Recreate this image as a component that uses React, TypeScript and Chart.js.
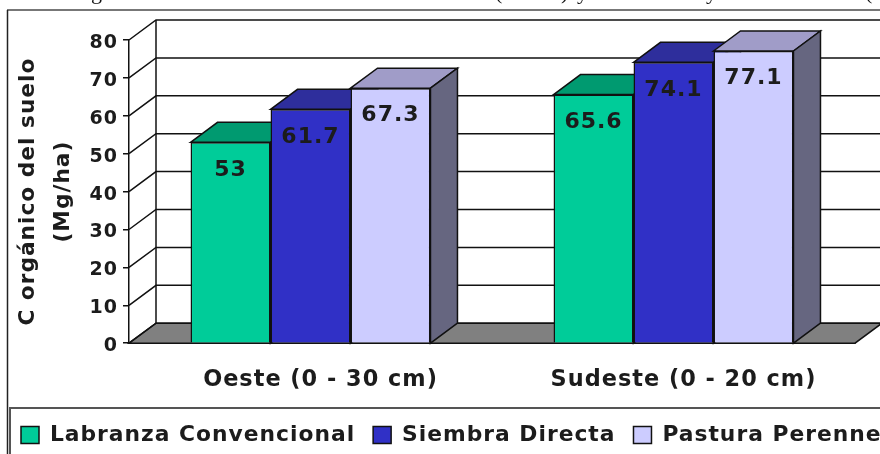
import React, { useEffect, useRef } from "react";
import { Chart, registerables } from "chart.js";

Chart.register(...registerables);

const categories = ["Oeste (0 - 30 cm)", "Sudeste (0 - 20 cm)"];
const labranza = [53, 65.6];
const siembra = [61.7, 74.1];
const pastura = [67.3, 77.1];
const seriesNames = ["Labranza Convencional", "Siembra Directa", "Pastura Perenne"];
const frontColors = ["#00CC99", "#3030C6", "#CCCCFF"];
const topColors = ["#009A70", "#2E2E9C", "#A09CC8"];
const sideColor = "#666680";
const floorColor = "#808080";
const depthX = 27;
const depthY = 20;
const font = "'DejaVu Sans'";
const textColor = "#1c1c1c";
const spacing = "1px";
const captionGlyphs: [string, number][] = [["g", 91], ["(", 495], [")", 561], ["y", 577], ["y", 706], ["(", 865]];

const depthPlugin = {
  id: "depth3d",
  beforeUpdate(chart: any) {
    chart.ctx.letterSpacing = spacing;
  },
  beforeLayout(chart: any) {
    chart.ctx.letterSpacing = spacing;
  },
  beforeDraw(chart: any) {
    chart.ctx.letterSpacing = spacing;
  },
  beforeDatasetsDraw(chart: any) {
    const { ctx, chartArea, scales } = chart;
    const { left, right, bottom, top } = chartArea;
    ctx.save();
    ctx.fillStyle = floorColor;
    ctx.strokeStyle = "#111";
    ctx.lineWidth = 1.5;
    ctx.beginPath();
    ctx.moveTo(left, bottom);
    ctx.lineTo(left + depthX, bottom - depthY);
    ctx.lineTo(right + depthX, bottom - depthY);
    ctx.lineTo(right, bottom);
    ctx.closePath();
    ctx.fill();
    ctx.stroke();
    scales.y.ticks.forEach((t: any) => {
      const y = scales.y.getPixelForValue(t.value);
      ctx.beginPath();
      ctx.moveTo(left, y);
      ctx.lineTo(left + depthX, y - depthY);
      ctx.lineTo(right + depthX, y - depthY);
      ctx.stroke();
    });
    ctx.beginPath();
    ctx.moveTo(left + depthX, top - depthY);
    ctx.lineTo(left + depthX, bottom - depthY);
    ctx.stroke();
    chart.data.datasets.forEach((_: any, di: number) => {
      chart.getDatasetMeta(di).data.forEach((bar: any) => {
        const half = bar.width / 2;
        const l = bar.x - half;
        const r = bar.x + half;
        ctx.fillStyle = topColors[di];
        ctx.beginPath();
        ctx.moveTo(l, bar.y);
        ctx.lineTo(l + depthX, bar.y - depthY);
        ctx.lineTo(r + depthX, bar.y - depthY);
        ctx.lineTo(r, bar.y);
        ctx.closePath();
        ctx.fill();
        ctx.stroke();
        ctx.fillStyle = sideColor;
        ctx.beginPath();
        ctx.moveTo(r, bar.y);
        ctx.lineTo(r + depthX, bar.y - depthY);
        ctx.lineTo(r + depthX, bottom - depthY);
        ctx.lineTo(r, bottom);
        ctx.closePath();
        ctx.fill();
        ctx.stroke();
      });
    });
    ctx.restore();
  },
  afterDatasetsDraw(chart: any) {
    const { ctx } = chart;
    ctx.save();
    ctx.fillStyle = textColor;
    ctx.font = `bold 22px ${font}`;
    ctx.textAlign = "center";
    ctx.textBaseline = "middle";
    chart.data.datasets.forEach((ds: any, di: number) => {
      chart.getDatasetMeta(di).data.forEach((bar: any, i: number) => {
        ctx.fillText(String(ds.data[i]), bar.x, bar.y + 27.5);
      });
    });
    ctx.restore();
  },
  afterDraw(chart: any) {
    const { ctx } = chart;
    ctx.save();
    ctx.strokeStyle = "#777";
    ctx.lineWidth = 2;
    ctx.beginPath();
    ctx.moveTo(7, 10);
    ctx.lineTo(1020, 10);
    ctx.stroke();
    ctx.strokeStyle = "#222";
    ctx.lineWidth = 1.5;
    ctx.beginPath();
    ctx.moveTo(7.5, 470);
    ctx.lineTo(7.5, 10);
    ctx.stroke();
    ctx.strokeStyle = "#555";
    ctx.lineWidth = 2;
    ctx.beginPath();
    ctx.moveTo(10, 470);
    ctx.lineTo(10, 408);
    ctx.lineTo(1020, 408);
    ctx.stroke();
    ctx.fillStyle = "#111";
    ctx.letterSpacing = "0px";
    ctx.font = "22px 'Liberation Serif'";
    ctx.textAlign = "left";
    ctx.textBaseline = "alphabetic";
    captionGlyphs.forEach(([glyph, x]) => ctx.fillText(glyph, x, -1));
    ctx.restore();
  },
};

export default function App() {
  const ref = useRef<HTMLCanvasElement>(null);
  useEffect(() => {
    document.body.style.margin = "0";
    const series = [labranza, siembra, pastura];
    const chart = new Chart(ref.current as HTMLCanvasElement, {
      type: "bar",
      data: {
        labels: categories,
        datasets: series.map((data, i) => ({
          label: seriesNames[i],
          data,
          backgroundColor: frontColors[i],
          borderColor: "#111",
          borderWidth: 1.5,
          categoryPercentage: 0.661,
          barPercentage: 1,
        })),
      },
      options: {
        responsive: false,
        animation: false,
        layout: { padding: { left: 3, right: 0, top: 40, bottom: 14 } },
        plugins: {
          tooltip: { enabled: false },
          title: { display: false },
          legend: {
            display: true,
            position: "bottom",
            align: "start",
            labels: {
              boxWidth: 18,
              boxHeight: 17,
              padding: 18,
              color: textColor,
              font: { family: font, size: 21.8, weight: "bold" },
            },
          },
        },
        scales: {
          x: {
            grid: { display: false },
            border: { color: "#111", width: 1.5 },
            ticks: {
              color: textColor,
              font: { family: font, size: 22.4, weight: "bold" },
              padding: 16,
              labelOffset: 10,
              maxRotation: 0,
            },
            afterFit(s: any) { s.height = 63; },
          },
          y: {
            min: 0,
            max: 80,
            grid: { drawOnChartArea: false, drawTicks: true, tickLength: 6, color: "#111", lineWidth: 1.5 },
            border: { color: "#111", width: 1.5 },
            ticks: {
              stepSize: 10,
              color: textColor,
              padding: 5,
              labelOffset: 3,
              font: { family: font, size: 19, weight: "bold" },
            },
            title: {
              display: true,
              text: ["C orgánico del suelo", "(Mg/ha)"],
              color: textColor,
              font: { family: font, size: 21.7, weight: "bold", lineHeight: 1.61 },
              padding: { top: 8, bottom: 0 },
            },
            afterFit(s: any) { s.width = 126; },
          },
          rightGap: {
            type: "linear",
            position: "right",
            min: 0,
            max: 80,
            grid: { display: false },
            border: { display: false },
            ticks: { display: false },
            afterFit(s: any) { s.width = 165; },
          },
        },
      },
      plugins: [depthPlugin],
    } as any);
    return () => chart.destroy();
  }, []);
  return (
    <div style={{ width: 880, height: 454, overflow: "hidden", background: "#fff" }}>
      <canvas ref={ref} width={1020} height={470} style={{ display: "block", filter: "blur(0.5px)" }} />
    </div>
  );
}
